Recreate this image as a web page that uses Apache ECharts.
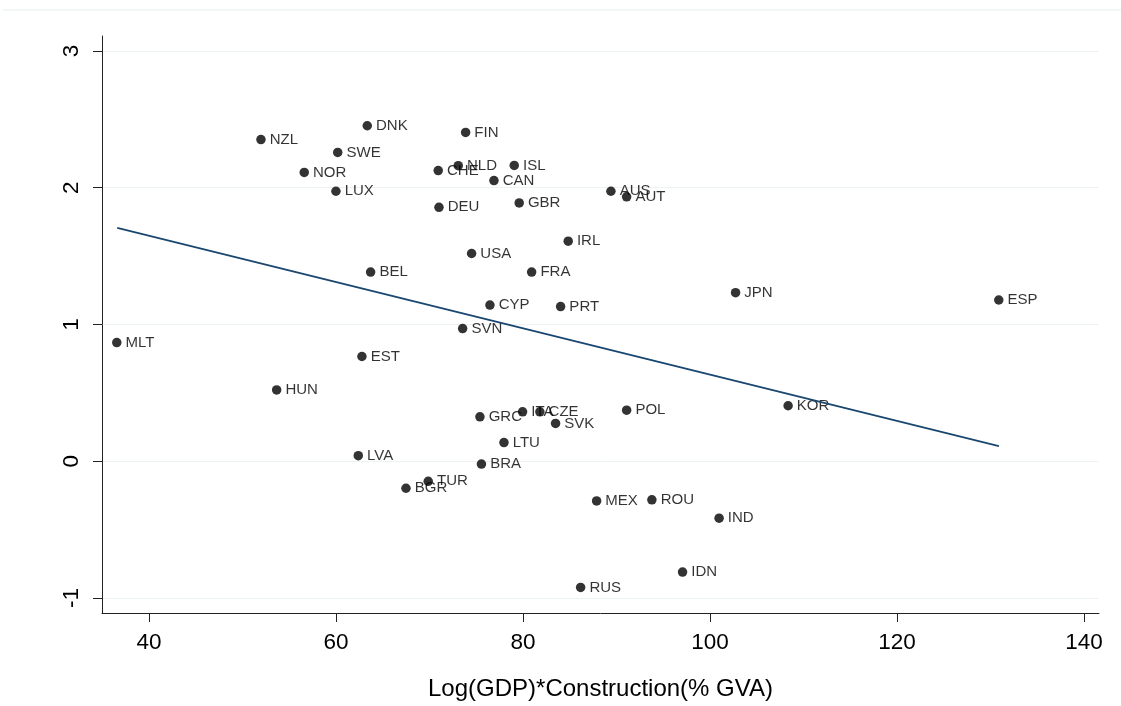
<!DOCTYPE html>
<html>
<head>
<meta charset="utf-8">
<script src="https://cdn.jsdelivr.net/npm/echarts@6/dist/echarts.min.js"></script>
<style>
html,body{margin:0;padding:0;background:#fff;}
#c{width:1121px;height:706px;}
</style>
</head>
<body>
<div id="c"></div>
<script>
const countries = ["NZL","DNK","FIN","SWE","NOR","CHE","NLD","ISL","CAN","LUX","DEU","GBR","AUS","AUT","IRL","USA","BEL","FRA","JPN","ESP","CYP","PRT","SVN","MLT","EST","HUN","GRC","ITA","CZE","SVK","POL","KOR","LTU","LVA","BRA","TUR","BGR","MEX","ROU","IND","IDN","RUS"];
const xValues = [51.97,63.34,73.86,60.18,56.60,70.93,73.07,79.06,76.89,59.99,71.01,79.59,89.40,91.08,84.83,74.50,63.70,80.92,102.73,130.88,76.46,84.02,73.54,36.55,62.77,53.65,75.39,79.95,81.80,83.48,91.08,108.35,77.96,62.38,75.55,69.86,67.48,87.87,93.78,100.97,97.06,86.16];
const yValues = [2.352,2.453,2.404,2.258,2.112,2.125,2.161,2.163,2.052,1.974,1.857,1.889,1.974,1.933,1.609,1.519,1.383,1.383,1.233,1.179,1.142,1.131,0.970,0.868,0.766,0.522,0.325,0.362,0.362,0.277,0.374,0.406,0.137,0.041,-0.020,-0.146,-0.197,-0.290,-0.282,-0.416,-0.810,-0.922];
const fitX = [36.6, 130.9];
const fitY = [1.707, 0.11];
const xTicks = [40,60,80,100,120,140];
const yTicks = [-1,0,1,2,3];
const xTitle = "Log(GDP)*Construction(% GVA)";

const pts = countries.map((c,i)=>({name:c, value:[xValues[i], yValues[i]]}));
const fit = fitX.map((x,i)=>[x, fitY[i]]);

const chart = echarts.init(document.getElementById('c'), null, {renderer:'canvas'});
const font = "'Liberation Sans', Arial, sans-serif";
chart.setOption({
  animation:false,
  backgroundColor:'#fff',
  textStyle:{fontFamily:font},
  grid:{left:102, right:22, top:36, bottom:92, containLabel:false},
  graphic:[{type:'line', shape:{x1:3,y1:10,x2:1121,y2:10}, style:{stroke:'#e8eeee', lineWidth:1}}],
  xAxis:{
    type:'value', min:34.97, max:141.6,
    name:xTitle, nameLocation:'middle', nameGap:64,
    nameTextStyle:{fontSize:24, color:'#000', fontFamily:font},
    axisLine:{show:true, onZero:false, lineStyle:{color:'#222', width:1}},
    axisTick:{show:true, length:9, customValues:xTicks, lineStyle:{color:'#222'}},
    axisLabel:{customValues:xTicks, fontSize:22.5, color:'#000', margin:18, fontFamily:font},
    splitLine:{show:false}
  },
  yAxis:{
    type:'value', min:-1.109, max:3.109,
    axisLine:{show:true, onZero:false, lineStyle:{color:'#222', width:1}},
    axisTick:{show:true, length:9, customValues:yTicks, lineStyle:{color:'#222'}},
    axisLabel:{customValues:yTicks, fontSize:22.5, color:'#000', margin:19, rotate:90, fontFamily:font},
    splitLine:{show:true, lineStyle:{color:'#edf2f4', width:1}}
  },
  series:[
    {type:'scatter', data:pts, symbol:'circle', symbolSize:9.5, z:2,
     itemStyle:{color:'#000'},
     label:{show:true, position:'right', distance:4, formatter:'{b}', fontSize:15, color:'#000', fontFamily:font}},
    {type:'line', data:fit, symbol:'none', z:3, silent:true,
     lineStyle:{color:'#1a476f', width:1.8}}
  ]
});
</script>
</body>
</html>
